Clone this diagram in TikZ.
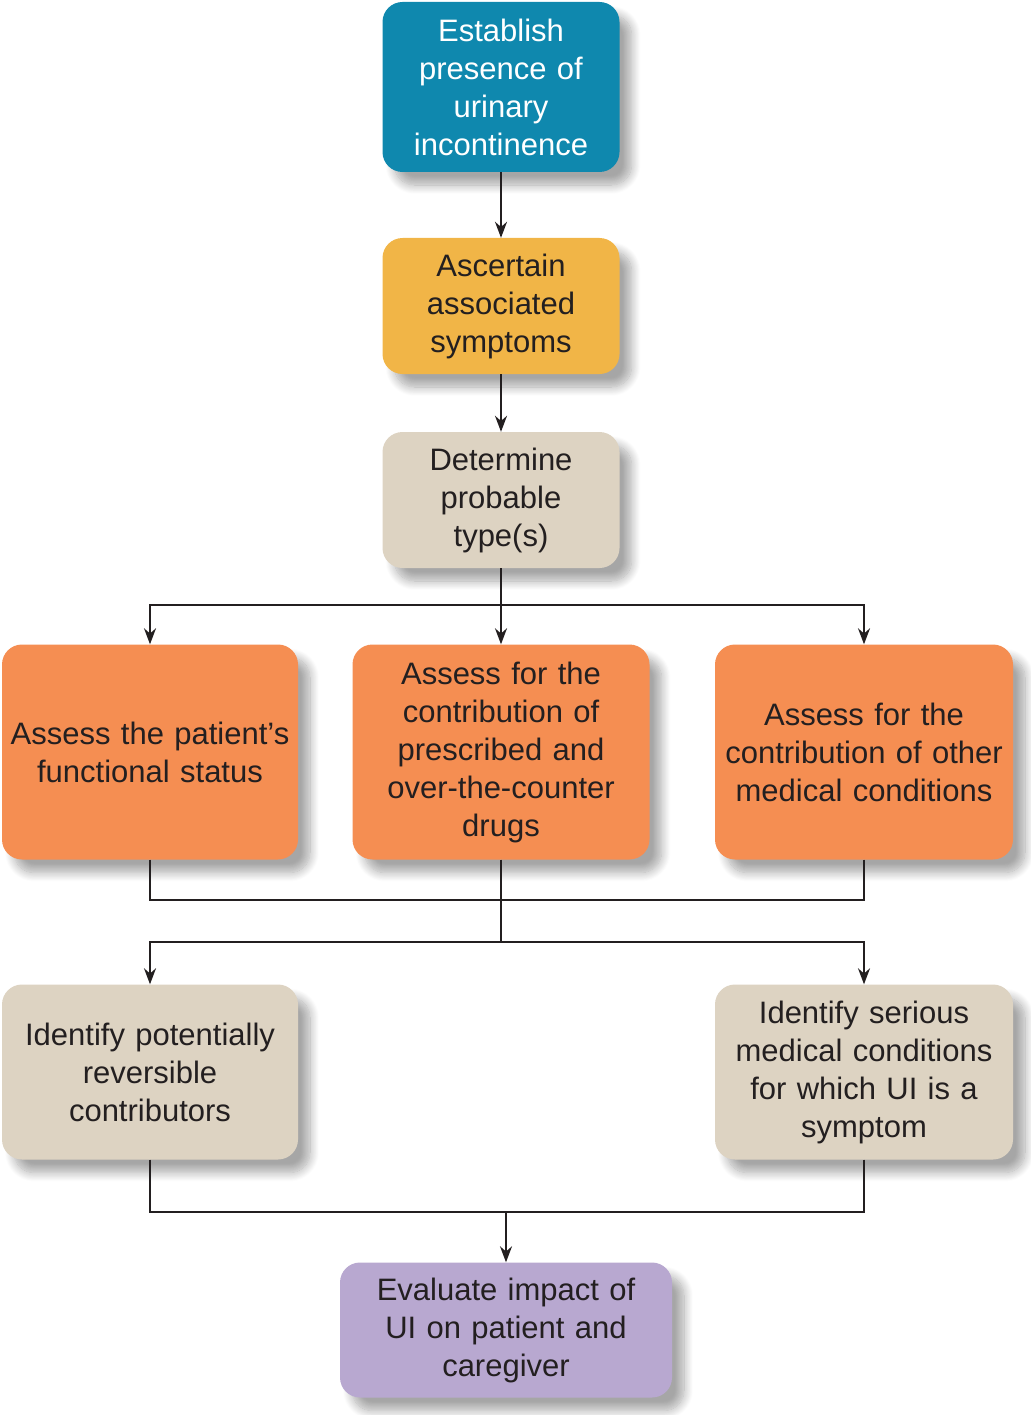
\documentclass[tikz,border=0pt]{standalone}
\usepackage{fontspec}
\setmainfont{Liberation Sans}
\usetikzlibrary{arrows.meta,shadows.blur}

\definecolor{tealbox}{HTML}{0F88AE}
\definecolor{goldbox}{HTML}{F1B547}
\definecolor{sandbox}{HTML}{DDD3C2}
\definecolor{orangebox}{HTML}{F58E52}
\definecolor{lilacbox}{HTML}{B8A8D0}
\definecolor{inkdark}{HTML}{231F20}

\tikzset{
  box/.style={draw=none, rounded corners=20pt, align=center, inner sep=0pt,
    text=inkdark,
    blur shadow={shadow xshift=12pt, shadow yshift=-13pt,
    shadow blur steps=12, shadow blur radius=9pt, shadow opacity=35}},
  link/.style={line width=2pt, draw=inkdark},
  arr/.style={link, -{Stealth[length=16pt, width=12pt]}},
}

\begin{document}
\begin{tikzpicture}[x=1pt, y=-1pt, font=\fontsize{31}{38}\selectfont]
\useasboundingbox (0,0) rectangle (1030,1415);

\node[box, fill=tealbox, text=white, minimum width=237pt, minimum height=170pt, text width=230pt] (establish) at (501,87) {Establish\\presence of\\urinary\\incontinence};
\node[box, fill=goldbox, minimum width=237pt, minimum height=136pt, text width=230pt] (ascertain) at (501,306) {Ascertain\\associated\\symptoms};
\node[box, fill=sandbox, minimum width=237pt, minimum height=136pt, text width=230pt] (determine) at (501,500) {Determine\\probable\\type(s)};

\node[box, fill=orangebox, minimum width=296pt, minimum height=215pt, text width=292pt] (functional) at (150,752) {Assess the patient’s\\functional status};
\node[box, fill=orangebox, minimum width=297pt, minimum height=215pt, text width=292pt] (drugs) at (501,752) {Assess for the\\contribution of\\prescribed and\\over-the-counter\\drugs};
\node[box, fill=orangebox, minimum width=298pt, minimum height=215pt, text width=292pt] (other) at (864,752) {Assess for the\\contribution of other\\medical conditions};

\node[box, fill=sandbox, minimum width=296pt, minimum height=175pt, text width=292pt] (reversible) at (150,1072) {Identify potentially\\reversible\\contributors};
\node[box, fill=sandbox, minimum width=298pt, minimum height=175pt, text width=292pt] (serious) at (864,1072) {Identify serious\\medical conditions\\for which UI is a\\symptom};

\node[box, fill=lilacbox, minimum width=332pt, minimum height=135pt, text width=320pt] (evaluate) at (506,1330) {Evaluate impact of\\UI on patient and\\caregiver};

\coordinate (split1) at (501,605);
\coordinate (join1) at (501,900);
\coordinate (split2) at (501,942);
\coordinate (join2) at (506,1212);

\draw[arr] (establish) -- (ascertain);
\draw[arr] (ascertain) -- (determine);

\draw[link] (determine) -- (split1);
\draw[arr] (split1) -| (functional);
\draw[arr] (split1) -- (drugs);
\draw[arr] (split1) -| (other);

\draw[link] (functional) |- (join1);
\draw[link] (drugs) -- (join1);
\draw[link] (other) |- (join1);
\draw[link] (join1) -- (split2);
\draw[arr] (split2) -| (reversible);
\draw[arr] (split2) -| (serious);

\draw[link] (reversible) |- (join2);
\draw[link] (serious) |- (join2);
\draw[arr] (join2) -- (evaluate);
\end{tikzpicture}
\end{document}
